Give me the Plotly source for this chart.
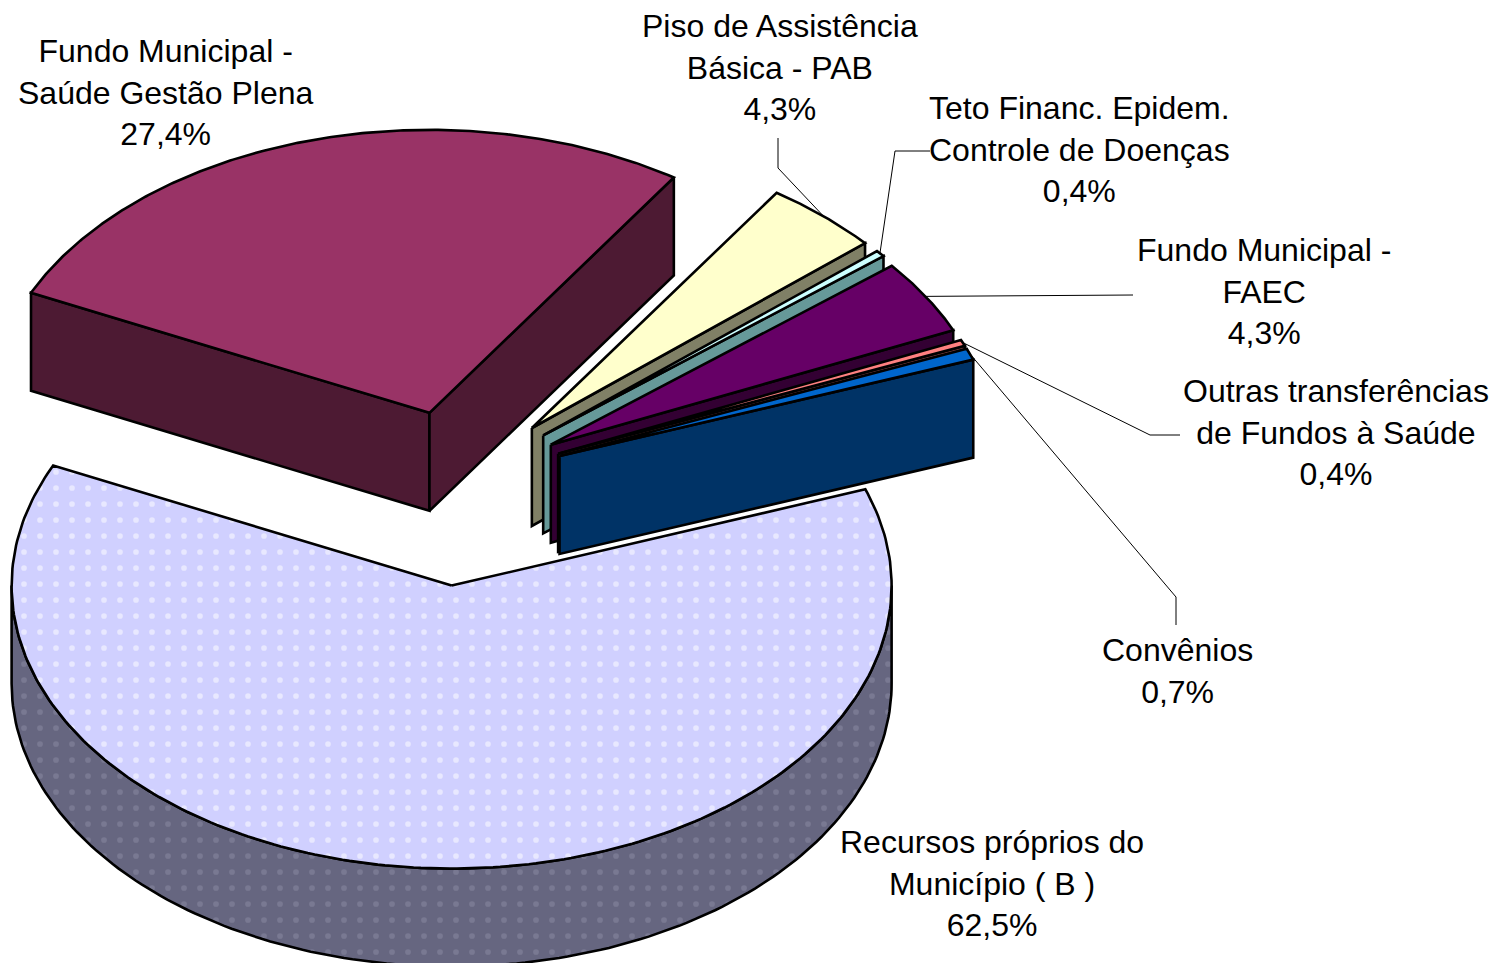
import numpy as np
import plotly.graph_objects as go

# Data, clockwise from the first slice
categories = ["Recursos próprios do<br>Município ( B )", "Fundo Municipal -<br>Saúde Gestão Plena",
              "Piso de Assistência<br>Básica - PAB", "Teto Financ. Epidem.<br>Controle de Doenças",
              "Fundo Municipal -<br>FAEC", "Outras transferências<br>de Fundos à Saúde", "Convênios<br>"]
values = [62.5, 27.4, 4.3, 0.4, 4.3, 0.4, 0.7]
value_labels = ["62,5%", "27,4%", "4,3%", "0,4%", "4,3%", "0,4%", "0,7%"]
top_colors = ["#D0D0FF", "#993366", "#FFFFCC", "#CCFFFF", "#660066", "#FF8080", "#0066CC"]
side_colors = ["#666680", "#4D1A33", "#808066", "#669999", "#330033", "#804040", "#003366"]
explode = [0.37, 0.25, 0.25, 0.25, 0.245, 0.245, 0.245]
label_pos = [(992, 883.5), (166, 92.5), (780, 67.5), (1079, 149.5), (1264, 291.5), (1336, 432.5), (1177, 671)]
leaders = [None, None, [(778, 168), (778, 138)], [(895, 151), (930, 151)], [(1133, 295)],
           [(1150, 435), (1180, 435)], [(1176, 597), (1176, 625)]]

CX, CY, RX, RY, H = 459, 481, 440, 283, 98
START = 70.1

def pt(a, ox=0, oy=0):
    r = np.radians(a)
    return ox + RX * np.sin(r), oy - RY * np.cos(r)

fig = go.Figure()

def poly(xs, ys, fill, pattern=None, width=2.6):
    fig.add_trace(go.Scatter(x=list(xs), y=list(ys), mode="lines", fill="toself", fillcolor=fill,
                             line=dict(color="black", width=width), hoverinfo="skip", showlegend=False,
                             fillpattern=pattern))

angles = []
a = START
for v in values:
    angles.append((a, a + v * 3.6))
    a += v * 3.6

order = [1, 2, 3, 4, 5, 6, 0]
for i in order:
    s, t = angles[i]
    mid = (s + t) / 2
    ax = CX + explode[i] * RX * np.sin(np.radians(mid))
    ay = CY - explode[i] * RY * np.cos(np.radians(mid))
    is_big = i == 0
    side_pat = dict(shape=".", bgcolor=side_colors[i], fgcolor="#8C8CA3", size=16, solidity=0.1) if is_big else None
    top_pat = dict(shape=".", bgcolor=top_colors[i], fgcolor="#FFFFFF", size=16, solidity=0.1) if is_big else None
    # radial cut faces that look toward the viewer
    for ang, vis in ((s, 180 < (s % 360)), (t, (t % 360) < 180)):
        if vis:
            x, y = pt(ang, ox=ax, oy=ay)
            poly([ax, x, x, ax, ax], [ay, y, y + H, ay + H, ay], side_colors[i])
    # curved outer wall
    lo, hi = max(s, 90), min(t, 270)
    if hi > lo:
        arc = np.linspace(lo, hi, 160)
        x, y = pt(arc, ox=ax, oy=ay)
        poly(np.r_[x, x[::-1], x[0]], np.r_[y, y[::-1] + H, y[0]], side_colors[i], side_pat)
    # top face
    arc = np.linspace(s, t, 240)
    x, y = pt(arc, ox=ax, oy=ay)
    poly(np.r_[ax, x, ax], np.r_[ay, y, ay], top_colors[i], top_pat)

# leader lines start on the rim at the middle of each slice
for i, path in enumerate(leaders):
    if not path:
        continue
    s, t = angles[i]
    mid = (s + t) / 2
    ax = CX + explode[i] * RX * np.sin(np.radians(mid))
    ay = CY - explode[i] * RY * np.cos(np.radians(mid))
    x0, y0 = pt(mid, ox=ax, oy=ay)
    fig.add_trace(go.Scatter(x=[x0] + [p[0] for p in path], y=[y0] + [p[1] for p in path], mode="lines",
                             line=dict(color="black", width=1), hoverinfo="skip", showlegend=False))

for c, lab, (x, y) in zip(categories, value_labels, label_pos):
    fig.add_annotation(x=x, y=y, xref="x", yref="y", text=f"{c}<br>{lab}" if not c.endswith("<br>") else f"{c}{lab}",
                       showarrow=False, align="center", xanchor="center", yanchor="middle",
                       font=dict(family="Liberation Sans", size=32, color="black"))

fig.update_layout(width=1493, height=963, margin=dict(l=0, r=0, t=0, b=0), plot_bgcolor="white",
                  paper_bgcolor="white", showlegend=False,
                  xaxis=dict(range=[0, 1493], visible=False, fixedrange=True),
                  yaxis=dict(range=[963, 0], visible=False, fixedrange=True))
fig.write_html("out.html", config=dict(displayModeBar=False),
               post_script="document.body.style.margin='0';document.body.style.overflow='hidden';")
